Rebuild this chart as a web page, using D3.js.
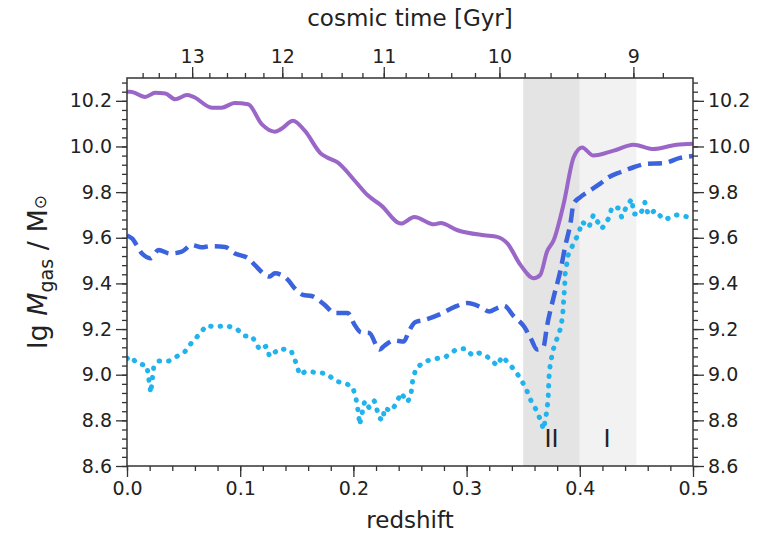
<!DOCTYPE html>
<html>
<head>
<meta charset="utf-8">
<script src="https://cdn.jsdelivr.net/npm/d3@7"></script>
<style>
  body { margin: 0; background: #fff; }
  text { font-family: "DejaVu Sans", sans-serif; fill: #222; }
</style>
</head>
<body>
<div id="chart"></div>
<script>
// values
var purpleZ = [0, 0.003, 0.016, 0.025, 0.034, 0.0425, 0.053, 0.0587, 0.075, 0.0836, 0.095, 0.107, 0.119, 0.1306, 0.136, 0.1467, 0.157, 0.1717, 0.1775, 0.186, 0.201, 0.2127, 0.2245, 0.242, 0.2538, 0.2714, 0.277, 0.292, 0.3154, 0.327, 0.336, 0.3477, 0.3594, 0.365, 0.371, 0.377, 0.3858, 0.3946, 0.402, 0.412, 0.43, 0.4475, 0.465, 0.4856, 0.5];
var purpleM = [10.24, 10.24, 10.217, 10.235, 10.232, 10.207, 10.225, 10.217, 10.17, 10.17, 10.19, 10.185, 10.098, 10.065, 10.076, 10.113, 10.069, 9.967, 9.95, 9.93, 9.851, 9.786, 9.742, 9.662, 9.691, 9.659, 9.665, 9.633, 9.611, 9.604, 9.575, 9.48, 9.423, 9.437, 9.539, 9.59, 9.75, 9.953, 9.996, 9.96, 9.982, 10.008, 9.989, 10.008, 10.012];

var blueZ = [0, 0.0044, 0.0132, 0.0205, 0.0279, 0.038, 0.0484, 0.0572, 0.066, 0.0733, 0.0865, 0.0953, 0.107, 0.113, 0.126, 0.1306, 0.1423, 0.148, 0.1555, 0.163, 0.1746, 0.1834, 0.195, 0.201, 0.2069, 0.214, 0.223, 0.2274, 0.236, 0.2445, 0.249, 0.2545, 0.2626, 0.277, 0.289, 0.3008, 0.3125, 0.32, 0.327, 0.333, 0.3418, 0.3506, 0.3565, 0.3624, 0.368, 0.371, 0.377, 0.383, 0.387, 0.3917, 0.3946, 0.4005, 0.409, 0.418, 0.4255, 0.4357, 0.4475, 0.459, 0.474, 0.4886, 0.5];
var blueM = [9.61, 9.597, 9.531, 9.51, 9.546, 9.531, 9.539, 9.568, 9.558, 9.563, 9.56, 9.531, 9.51, 9.48, 9.43, 9.444, 9.415, 9.379, 9.35, 9.345, 9.306, 9.27, 9.27, 9.219, 9.185, 9.183, 9.11, 9.127, 9.15, 9.145, 9.19, 9.23, 9.24, 9.266, 9.296, 9.314, 9.296, 9.277, 9.292, 9.302, 9.255, 9.212, 9.161, 9.11, 9.124, 9.212, 9.342, 9.459, 9.56, 9.662, 9.75, 9.778, 9.807, 9.837, 9.865, 9.887, 9.909, 9.924, 9.927, 9.95, 9.958];

var cyanZ = [0, 0.003, 0.009, 0.0175, 0.019, 0.021, 0.0235, 0.028, 0.037, 0.044, 0.051, 0.057, 0.0645, 0.070, 0.078, 0.088, 0.097, 0.104, 0.110, 0.114, 0.117, 0.123, 0.126, 0.131, 0.135, 0.145, 0.1495, 0.1525, 0.158, 0.167, 0.176, 0.185, 0.192, 0.1995, 0.2025, 0.2045, 0.2055, 0.21, 0.214, 0.2185, 0.223, 0.226, 0.2275, 0.233, 0.2375, 0.242, 0.248, 0.251, 0.2525, 0.2555, 0.264, 0.273, 0.282, 0.2905, 0.299, 0.305, 0.311, 0.318, 0.327, 0.3315, 0.339, 0.346, 0.352, 0.3565, 0.361, 0.365, 0.368, 0.3705, 0.372, 0.3728, 0.374, 0.3765, 0.380, 0.3835, 0.385, 0.3858, 0.3867, 0.387, 0.390, 0.3945, 0.399, 0.402, 0.408, 0.412, 0.4195, 0.4255, 0.4285, 0.434, 0.437, 0.4415, 0.446, 0.4475, 0.4535, 0.4575, 0.4605, 0.4665, 0.474, 0.478, 0.4855, 0.497, 0.5];
var cyanM = [9.07, 9.08, 9.05, 9.04, 8.99, 8.92, 9.03, 9.06, 9.06, 9.08, 9.10, 9.14, 9.18, 9.215, 9.21, 9.215, 9.20, 9.17, 9.17, 9.14, 9.11, 9.125, 9.08, 9.10, 9.115, 9.105, 9.05, 9.00, 9.015, 9.01, 9.005, 8.97, 8.965, 8.945, 8.89, 8.83, 8.78, 8.885, 8.855, 8.885, 8.81, 8.80, 8.855, 8.84, 8.87, 8.92, 8.88, 8.92, 8.98, 9.03, 9.06, 9.07, 9.08, 9.11, 9.115, 9.085, 9.095, 9.08, 9.04, 9.08, 9.04, 8.995, 8.945, 8.89, 8.85, 8.805, 8.76, 8.83, 8.89, 8.99, 9.05, 9.11, 9.16, 9.21, 9.27, 9.33, 9.39, 9.44, 9.53, 9.575, 9.62, 9.67, 9.645, 9.70, 9.64, 9.685, 9.735, 9.73, 9.69, 9.74, 9.77, 9.705, 9.70, 9.755, 9.70, 9.72, 9.68, 9.685, 9.70, 9.69, 9.685];

var yTicks = [8.6, 8.8, 9.0, 9.2, 9.4, 9.6, 9.8, 10.0, 10.2];
var zTicks = [0, 0.1, 0.2, 0.3, 0.4, 0.5];
var timeTicks = [13, 12, 11, 10, 9];
var bandStart = [0.35, 0.40];
var bandEnd = [0.40, 0.45];
var bandFill = ["#e4e4e4", "#f2f2f2"];
var phaseLabels = ["II", "I"];
var phaseZ = [0.375, 0.424];
var phaseM = 8.683;

var margin = {top: 78, right: 73, bottom: 68, left: 127},
    width = 766 - margin.left - margin.right,
    height = 534 - margin.top - margin.bottom;

// flat LCDM (Planck) : cosmic time -> redshift
function zOfT(t) {
  var tH = 977.8 / 67.7 * 2 / (3 * Math.sqrt(0.69));
  var a = Math.sinh(t / tH) / Math.sqrt(0.69 / 0.31);
  return Math.pow(a, -2 / 3) - 1;
}

var svg = d3.select("#chart").append("svg")
  .attr("width", 766).attr("height", 534)
  .append("g")
  .attr("transform", "translate(" + margin.left + "," + margin.top + ")");

var x = d3.scaleLinear().domain([0, 0.5]).range([0, width]);
var y = d3.scaleLinear().domain([8.6, 10.3]).range([height, 0]);

// shaded phases
svg.selectAll("rect.band")
  .data(bandStart)
  .join("rect")
  .attr("class", "band")
  .attr("x", function(d) { return x(d); })
  .attr("width", function(d, i) { return x(bandEnd[i]) - x(d); })
  .attr("y", 0).attr("height", height)
  .style("fill", function(d, i) { return bandFill[i]; });

function series(zs, ms) {
  return zs.map(function(z, i) { return [z, ms[i]]; });
}

var line = d3.line()
  .x(function(d) { return x(d[0]); })
  .y(function(d) { return y(d[1]); });

svg.append("defs").append("clipPath").attr("id", "clip")
  .append("rect").attr("width", width).attr("height", height);
var lines = svg.append("g").attr("clip-path", "url(#clip)");

lines.append("path")
  .datum(series(cyanZ, cyanM))
  .attr("d", line)
  .style("fill", "none").style("stroke", "#20b3ee")
  .style("stroke-width", 5)
  .style("stroke-linecap", "round")
  .style("stroke-linejoin", "round")
  .style("stroke-dasharray", "0.5,9");

lines.append("path")
  .datum(series(blueZ, blueM))
  .attr("d", line.curve(d3.curveMonotoneX))
  .style("fill", "none").style("stroke", "#3c63de")
  .style("stroke-width", 4.5)
  .style("stroke-dasharray", "14,7");

lines.append("path")
  .datum(series(purpleZ, purpleM))
  .attr("d", line.curve(d3.curveMonotoneX))
  .style("fill", "none").style("stroke", "#9a66c8")
  .style("stroke-width", 4);

// phase labels
svg.selectAll("text.phase")
  .data(phaseLabels)
  .join("text")
  .attr("class", "phase")
  .attr("x", function(d, i) { return x(phaseZ[i]); })
  .attr("y", y(phaseM))
  .attr("text-anchor", "middle")
  .style("font-size", "24px")
  .text(function(d) { return d; });

// axes
var fmt = d3.format(".1f");
function styleAxis(g, big) {
  g.selectAll(".domain").remove();
  g.selectAll("line").style("stroke", "#333").style("stroke-width", 1.3);
  g.selectAll("text").style("font-size", big ? "19px" : "0px")
    .style("font-family", "DejaVu Sans").style("fill", "#222");
}

var yMinor = d3.range(8.6, 10.301, 0.04);
var zMinor = d3.range(0, 0.5001, 0.02);
var tMinor = d3.range(8.6, 13.81, 0.2).filter(function(t) { var z = zOfT(t); return z >= 0 && z <= 0.5; });

svg.append("g").call(d3.axisLeft(y).tickValues(yMinor).tickSize(5).tickFormat(""))
  .call(styleAxis, false);
svg.append("g").call(d3.axisLeft(y).tickValues(yTicks).tickSize(11).tickPadding(4).tickFormat(fmt))
  .call(styleAxis, true);

svg.append("g").attr("transform", "translate(" + width + ",0)")
  .call(d3.axisRight(y).tickValues(yMinor).tickSize(5).tickFormat(""))
  .call(styleAxis, false);
svg.append("g").attr("transform", "translate(" + width + ",0)")
  .call(d3.axisRight(y).tickValues(yTicks).tickSize(11).tickPadding(4).tickFormat(fmt))
  .call(styleAxis, true);

svg.append("g").attr("transform", "translate(0," + height + ")")
  .call(d3.axisBottom(x).tickValues(zMinor).tickSize(5).tickFormat(""))
  .call(styleAxis, false);
svg.append("g").attr("transform", "translate(0," + height + ")")
  .call(d3.axisBottom(x).tickValues(zTicks).tickSize(11).tickPadding(5).tickFormat(fmt))
  .call(styleAxis, true);

svg.append("g")
  .call(d3.axisTop(x).tickValues(tMinor.map(zOfT)).tickSize(5).tickFormat(""))
  .call(styleAxis, false);
svg.append("g")
  .call(d3.axisTop(x).tickValues(timeTicks.map(zOfT)).tickSize(11).tickPadding(4)
    .tickFormat(function(d, i) { return timeTicks[i]; }))
  .call(styleAxis, true);

// frame
svg.append("rect")
  .attr("width", width).attr("height", height)
  .style("fill", "none").style("stroke", "#333").style("stroke-width", 1.5);

// axis labels
svg.append("text")
  .attr("x", width / 2).attr("y", height + 62)
  .attr("text-anchor", "middle")
  .style("font-size", "23px")
  .text("redshift");

svg.append("text")
  .attr("x", width / 2).attr("y", -52)
  .attr("text-anchor", "middle")
  .style("font-size", "23px")
  .text("cosmic time [Gyr]");

var ylab = svg.append("text")
  .attr("transform", "translate(-80," + (height / 2) + ") rotate(-90)")
  .attr("text-anchor", "middle")
  .style("font-size", "27px");
ylab.append("tspan").text("lg ");
ylab.append("tspan").style("font-style", "italic").text("M");
ylab.append("tspan").attr("dy", 6).style("font-size", "19px").text("gas");
ylab.append("tspan").attr("dy", -6).text(" / M");
ylab.append("tspan").attr("dy", -1).style("font-size", "17px").text("\u2299");
</script>
</body>
</html>
